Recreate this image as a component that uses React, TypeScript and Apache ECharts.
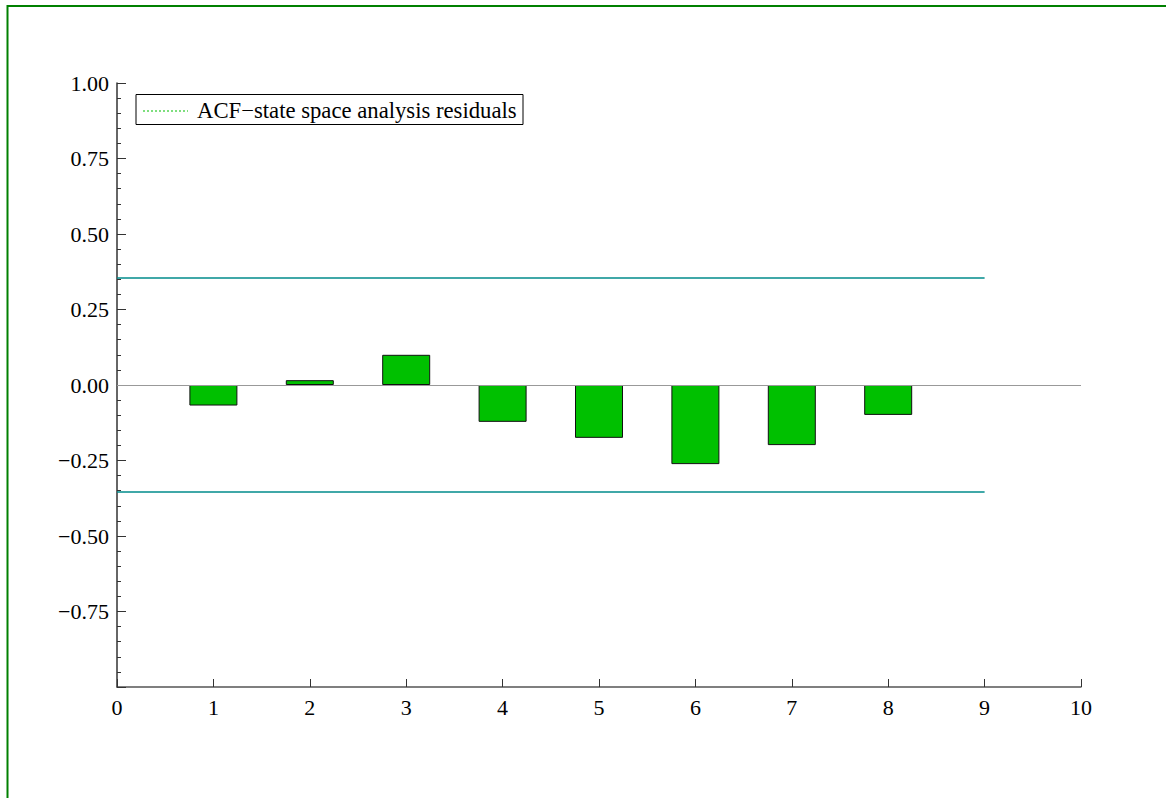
import React, { useEffect, useRef } from "react";
import * as echarts from "echarts";

// Autocorrelation of the state space analysis residuals, lags 1..8
const lags = [1, 2, 3, 4, 5, 6, 7, 8];
const acfValues = [-0.068, 0.016, 0.1, -0.122, -0.175, -0.262, -0.199, -0.099];
// Approximate 95% confidence band and the lag range it covers
const bandLimit = 0.354;
const bandRange = [0, 9];
const seriesName = "ACF\u2212state space analysis residuals";

const FONT = "'Liberation Serif', 'Times New Roman', serif";

const fmtY = (v: number) => {
  if (Math.abs(v + 1) < 1e-9) return "";
  const s = Math.abs(v).toFixed(2);
  return v < -1e-9 ? "\u2212" + s : s;
};

export default function App() {
  const ref = useRef<HTMLDivElement>(null);

  useEffect(() => {
    if (!ref.current) return;
    const chart = echarts.init(ref.current, undefined, { renderer: "svg" });
    const axisColor = "#333";
    chart.setOption({
      animation: false,
      backgroundColor: "#fff",
      grid: { left: 117, top: 83, width: 964, height: 604, containLabel: false },
      xAxis: {
        type: "value",
        min: 0,
        max: 10,
        interval: 1,
        axisLine: { show: true, onZero: false, lineStyle: { color: "#555", width: 1.5 } },
        axisTick: { show: true, inside: true, length: 8, lineStyle: { color: axisColor } },
        axisLabel: { color: "#000", fontFamily: FONT, fontSize: 22, margin: 9 },
        splitLine: { show: false },
      },
      yAxis: {
        type: "value",
        min: -1,
        max: 1,
        interval: 0.25,
        axisLine: { show: true, onZero: false, lineStyle: { color: axisColor, width: 1.5 } },
        axisTick: { show: true, inside: true, length: 9, lineStyle: { color: axisColor } },
        minorTick: { show: true, splitNumber: 5, length: 4, lineStyle: { color: axisColor } },
        axisLabel: {
          color: "#000",
          fontFamily: FONT,
          fontSize: 22,
          margin: 8,
          formatter: fmtY,
        },
        splitLine: { show: false },
      },
      series: [
        {
          name: seriesName,
          type: "bar",
          barWidth: 48,
          data: lags.map((l, i) => [l, acfValues[i]]),
          itemStyle: { color: "#00c000", borderColor: "#111", borderWidth: 1 },
          markLine: {
            silent: true,
            symbol: "none",
            label: { show: false },
            data: [
              [
                { coord: [0, 0], lineStyle: { color: "#999", width: 1.2, type: "solid" } },
                { coord: [10, 0] },
              ],
              [
                { coord: [bandRange[0], bandLimit], lineStyle: { color: "#008b8b", width: 1.5, type: "solid" } },
                { coord: [bandRange[1], bandLimit] },
              ],
              [
                { coord: [bandRange[0], -bandLimit], lineStyle: { color: "#008b8b", width: 1.5, type: "solid" } },
                { coord: [bandRange[1], -bandLimit] },
              ],
            ],
          },
          z: 3,
        },
      ],
      graphic: [
        // outer frame edges
        { type: "line", shape: { x1: 7, y1: 6, x2: 1166, y2: 6 }, style: { stroke: "#008000", lineWidth: 2 } },
        { type: "line", shape: { x1: 7.5, y1: 5, x2: 7.5, y2: 798 }, style: { stroke: "#008000", lineWidth: 2 } },
        // legend
        {
          type: "rect",
          shape: { x: 136, y: 94.5, width: 387, height: 30 },
          style: { fill: "#fff", stroke: "#000", lineWidth: 1 },
          z: 10,
        },
        {
          type: "line",
          shape: { x1: 143, y1: 111, x2: 188, y2: 111 },
          style: { stroke: "#00c000", lineWidth: 1.2, lineDash: [2, 2] },
          z: 11,
        },
        {
          type: "text",
          x: 197,
          y: 110,
          style: {
            text: seriesName,
            fill: "#000",
            font: `22.7px ${FONT}`,
            verticalAlign: "middle",
          },
          z: 11,
        },
      ],
    });
    return () => chart.dispose();
  }, []);

  return (
    <div
      ref={ref}
      style={{ position: "fixed", left: 0, top: 0, width: 1166, height: 798, background: "#fff" }}
    />
  );
}
